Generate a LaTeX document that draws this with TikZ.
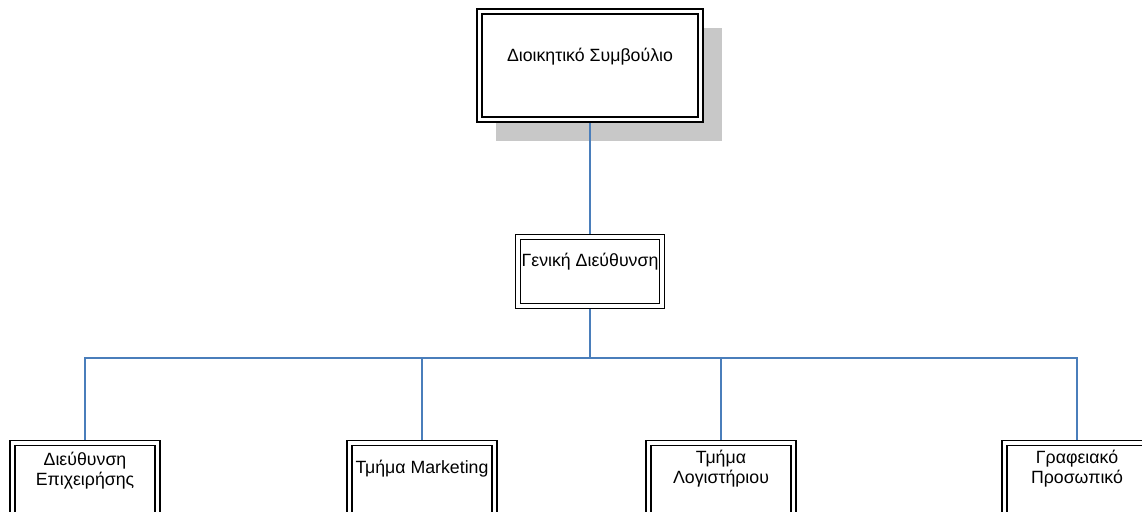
\documentclass[tikz,border=0pt]{standalone}
\usepackage{fontspec}
\setmainfont{Liberation Sans}
\usetikzlibrary{positioning, shadows}
\definecolor{linkblue}{RGB}{74,126,187}
\definecolor{shadowgray}{RGB}{200,200,200}
\tikzset{
  orgbox/.style={draw=black, fill=white, line width=1.4pt, inner sep=0pt,
    path picture={\draw[line width=0.9pt]
      ([shift={(3.75pt,3.75pt)}]path picture bounding box.south west) rectangle
      ([shift={(-3.75pt,-3.75pt)}]path picture bounding box.north east);}},
  deptbox/.style={orgbox, minimum width=112.5pt, minimum height=75pt},
  boxtext/.style={font=\fontsize{13.3}{15}\selectfont, align=center, inner sep=0pt, anchor=base},
  link/.style={draw=linkblue, line width=1.2pt}
}
\begin{document}
\begin{tikzpicture}[x=0.75pt, y=-0.75pt]
\useasboundingbox (0,0) rectangle (1142,511);
\clip (0,0) rectangle (1142,511);

% Boxes
\node (board) [orgbox, minimum width=169.5pt, minimum height=84.75pt,
  drop shadow={shadow xshift=14.25pt, shadow yshift=-14.25pt, fill=shadowgray, opacity=1}] at (590,65.5) {};
\node (gm) [orgbox, minimum width=111.75pt, minimum height=55.5pt] at (590,271.5) {};
\node (ops) [deptbox] at (85,490.5) {};
\node (mkt) [deptbox] at (422,490.5) {};
\node (acc) [deptbox] at (721,490.5) {};
\node (staff) [deptbox] at (1077,490.5) {};

% Texts
\node (boardtext) [boxtext] at (590,61.7) {Διοικητικό Συμβούλιο};
\node (gmtext) [boxtext] at (590,266.5) {Γενική Διεύθυνση};
\node (opstext) [boxtext] at (85,485) {Διεύθυνση\\Επιχειρήσης};
\node (mkttext) [boxtext] at (422,473) {Τμήμα Marketing};
\node (acctext) [boxtext] at (721,483) {Τμήμα\\Λογιστήριου};
\node (stafftext) [boxtext] at (1077,483) {Γραφειακό\\Προσωπικό};

% Connectors
\coordinate (bus) at (590,357.7);
\draw [link] (board.south) -- (gm.north);
\draw [link] (gm.south) -- (bus);
\foreach \d in {ops, mkt, acc, staff}
  \draw [link] (bus) -| (\d.north);

\end{tikzpicture}
\end{document}
